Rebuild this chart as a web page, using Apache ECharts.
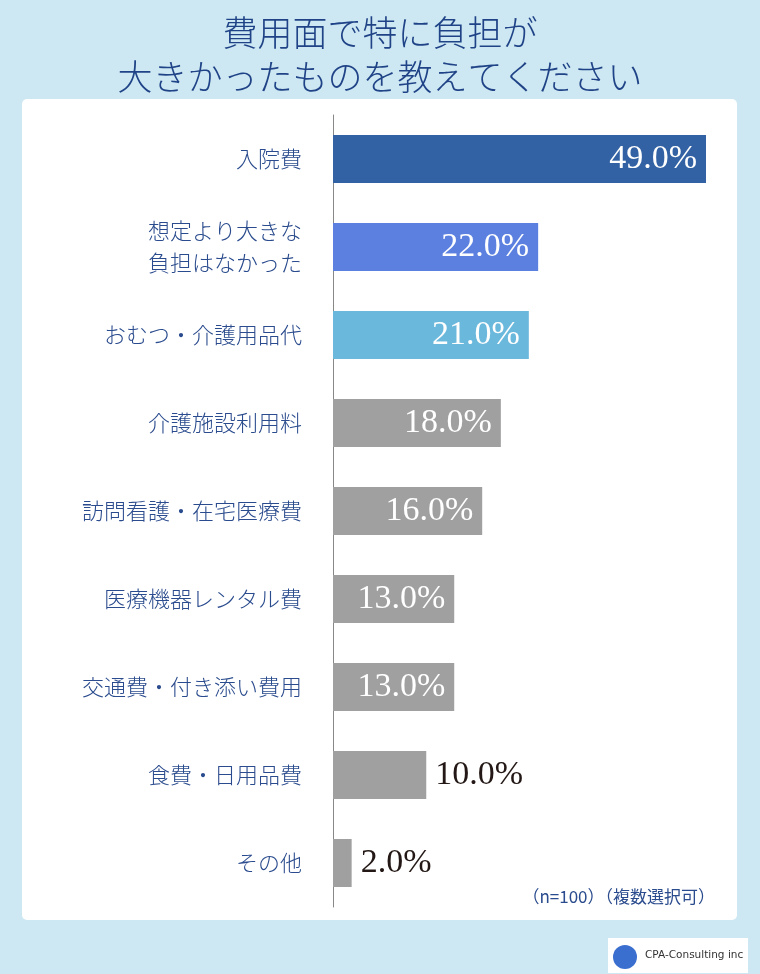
<!DOCTYPE html>
<html>
<head>
<meta charset="utf-8">
<script src="https://cdn.jsdelivr.net/npm/echarts@6/dist/echarts.min.js"></script>
<style>
  html, body { margin: 0; padding: 0; background: #cde8f3; }
  #main { width: 760px; height: 974px; }
</style>
</head>
<body>
<div id="main"></div>
<script>
// 項目
var categories = ['入院費', '想定より大きな\n負担はなかった', 'おむつ・介護用品代', '介護施設利用料',
  '訪問看護・在宅医療費', '医療機器レンタル費', '交通費・付き添い費用', '食費・日用品費', 'その他'];
// 割合（%）
var values = [49.0, 22.0, 21.0, 18.0, 16.0, 13.0, 13.0, 10.0, 2.0];
var barColors = ['#3262a3', '#5b80e0', '#6ab8dc', '#a0a0a0', '#a0a0a0', '#a0a0a0', '#a0a0a0', '#a0a0a0', '#a0a0a0'];

var chart = echarts.init(document.getElementById('main'));

var jp = '"Noto Sans CJK JP", sans-serif';
var serif = '"Liberation Serif", "DejaVu Serif", serif';

chart.setOption({
  backgroundColor: '#cde8f3',
  title: {
    text: '費用面で特に負担が\n大きかったものを教えてください',
    left: 'center',
    top: 6,
    textStyle: {
      fontFamily: jp,
      fontWeight: 300,
      fontSize: 35,
      lineHeight: 44,
      color: '#1f4386'
    }
  },
  graphic: [
    {
      type: 'rect', z: -10,
      shape: { x: 22, y: 99, width: 715, height: 821, r: 5 },
      style: { fill: '#ffffff' }
    },
    {
      type: 'text', right: 45, top: 888,
      style: { text: '（n=100）（複数選択可）', font: '17px ' + jp, fill: '#2a4b8d' }
    },
    // ロゴ
    {
      type: 'rect',
      shape: { x: 608, y: 938, width: 140, height: 35 },
      style: { fill: '#ffffff' }
    },
    {
      type: 'circle',
      shape: { cx: 625, cy: 957, r: 12 },
      style: { fill: '#3a6fd0' }
    },
    {
      type: 'text', left: 645, top: 950,
      style: { text: 'CPA-Consulting inc', font: '10.5px "DejaVu Sans", sans-serif', fill: '#333333' }
    }
  ],
  grid: { left: 333, right: 54, top: 115, height: 792, containLabel: false },
  xAxis: {
    type: 'value',
    min: 0,
    max: 40,
    show: false
  },
  yAxis: {
    type: 'category',
    inverse: true,
    data: categories,
    axisLine: { lineStyle: { color: '#888888', width: 1 } },
    axisTick: { show: false },
    axisLabel: {
      margin: 31,
      fontFamily: jp,
      fontWeight: 300,
      fontSize: 22,
      lineHeight: 32,
      color: '#2a4b8d',
      align: 'right'
    }
  },
  series: [{
    type: 'bar',
    data: values.map(function (v, i) {
      var outside = v < 12;
      return {
        value: v,
        itemStyle: { color: barColors[i] },
        label: {
          position: outside ? 'right' : 'insideRight',
          color: outside ? '#231815' : '#ffffff'
        }
      };
    }),
    barWidth: 48,
    clip: true,
    label: {
      show: true,
      distance: 9,
      fontFamily: serif,
      fontSize: 34,
      formatter: function (p) { return p.value.toFixed(1) + '%'; }
    }
  }]
});
</script>
</body>
</html>
